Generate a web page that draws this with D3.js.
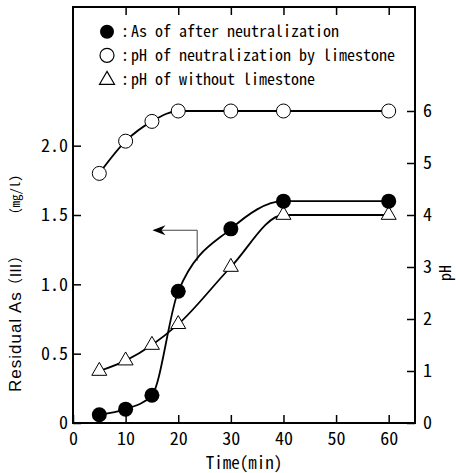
<!DOCTYPE html>
<html>
<head>
<meta charset="utf-8">
<script src="https://cdn.jsdelivr.net/npm/d3@7"></script>
<style>
  body { margin: 0; background: #fff; }
  .mono { font-family: 'Noto Sans Mono CJK JP', 'DejaVu Sans Mono', monospace; }
</style>
</head>
<body>
<svg id="chart"></svg>
<script>
// Data
const times = [5, 10, 15, 20, 30, 40, 60];
const asValues = [0.06, 0.10, 0.20, 0.95, 1.40, 1.60, 1.60];      // mg/l, left axis
const phLimestone = [4.80, 5.42, 5.80, 6.00, 6.00, 6.00, 6.00];   // pH, right axis
const phWithout = [1.00, 1.20, 1.50, 1.90, 3.00, 4.00, 4.00];     // pH, right axis

const xTicks = [0, 10, 20, 30, 40, 50, 60];
const leftTicks = [0, 0.5, 1.0, 1.5, 2.0];
const rightTicks = [0, 1, 2, 3, 4, 5, 6];
const legendLabels = ['As of after neutralization', 'pH of neutralization by limestone', 'pH of without limestone'];

const W = 456, H = 473;
const svg = d3.select('#chart').attr('width', W).attr('height', H);
const m = { left: 73, right: 415, top: 7, bottom: 423 };

const x = d3.scaleLinear().domain([0, 65]).range([m.left, m.right]);
const yL = d3.scaleLinear().domain([0, 3]).range([m.bottom, m.top]);
const yR = d3.scaleLinear().domain([0, 8]).range([m.bottom, m.top]);

const tickFont = 18;

// Axes (inward ticks)
function styleAxis(g) {
  g.select('.domain').remove();
  g.selectAll('.tick line').attr('stroke', '#000').attr('stroke-width', 1.5);
  g.selectAll('text').attr('class', 'mono').attr('font-size', tickFont).attr('fill', '#000');
}

svg.append('g').attr('transform', `translate(0,${m.bottom})`)
  .call(d3.axisBottom(x).tickValues(xTicks).tickSizeInner(-8).tickSizeOuter(0).tickPadding(9).tickFormat(d3.format('d')))
  .call(styleAxis);

svg.append('g').attr('transform', `translate(0,${m.top})`)
  .call(d3.axisTop(x).tickValues(xTicks.filter(d => d > 0)).tickSizeInner(-8).tickSizeOuter(0).tickFormat(''))
  .call(styleAxis);

svg.append('g').attr('transform', `translate(${m.left},0)`)
  .call(d3.axisLeft(yL).tickValues(leftTicks).tickSizeInner(-8).tickSizeOuter(0).tickPadding(5)
    .tickFormat(d => d === 0 ? '0' : d.toFixed(1)))
  .call(styleAxis);

svg.append('g').attr('transform', `translate(${m.right},0)`)
  .call(d3.axisRight(yR).tickValues(rightTicks).tickSizeInner(-8).tickSizeOuter(0).tickPadding(8).tickFormat(d3.format('d')))
  .call(styleAxis);

// Frame
svg.append('rect')
  .attr('x', m.left).attr('y', m.top)
  .attr('width', m.right - m.left).attr('height', m.bottom - m.top)
  .attr('fill', 'none').attr('stroke', '#000').attr('stroke-width', 2);

// Axis titles
svg.append('text').attr('class', 'mono')
  .attr('x', (m.left + m.right) / 2).attr('y', 469)
  .attr('text-anchor', 'middle').attr('font-size', 17)
  .text('Time(min)');

// left title, pieces placed along the rotated axis (x here = -screen y)
const yTitle = svg.append('g').attr('transform', 'translate(21,0) rotate(-90)').attr('fill', '#000');
yTitle.append('text').attr('x', -392).attr('y', 0)
  .attr('font-family', 'Liberation Sans, Arial, sans-serif').attr('font-size', 17)
  .attr('letter-spacing', 1).text('Residual As');
yTitle.append('text').attr('x', -293).attr('y', 0)
  .attr('font-family', "'Noto Sans CJK JP', sans-serif").attr('font-size', 15).text('（Ⅲ）');
yTitle.append('text').attr('class', 'mono').attr('x', -214).attr('y', -1)
  .attr('font-size', 13).text('(mg/l)');

svg.append('text').attr('class', 'mono')
  .attr('transform', 'translate(451,273) rotate(-90)')
  .attr('text-anchor', 'middle').attr('font-size', 16)
  .text('pH');

// Annotation arrow pointing to the left axis
const arrowPath = d3.path();
arrowPath.moveTo(x(23.6), yL(1.17));
arrowPath.lineTo(x(23.6), yL(1.39));
arrowPath.lineTo(x(15.4), yL(1.39));
svg.append('path').attr('d', arrowPath.toString())
  .attr('fill', 'none').attr('stroke', '#444').attr('stroke-width', 1);
const ax = x(15.1), ay = yL(1.39);
svg.append('path')
  .attr('d', `M${ax},${ay} L${ax + 13},${ay - 5} L${ax + 9},${ay} L${ax + 13},${ay + 5} Z`)
  .attr('fill', '#000');

// Lines
const curve = d3.curveMonotoneX;
const lineL = d3.line().x((d, i) => x(times[i])).y(d => yL(d)).curve(curve);
const lineR = d3.line().x((d, i) => x(times[i])).y(d => yR(d)).curve(curve);

svg.append('path').attr('d', lineR(phLimestone)).attr('fill', 'none').attr('stroke', '#000').attr('stroke-width', 1.8);
svg.append('path').attr('d', lineR(phWithout)).attr('fill', 'none').attr('stroke', '#000').attr('stroke-width', 1.8);
svg.append('path').attr('d', lineL(asValues)).attr('fill', 'none').attr('stroke', '#000').attr('stroke-width', 1.8);

// Markers
const triangle = d3.symbol().type(d3.symbolTriangle).size(97);

svg.append('g').selectAll('circle').data(phLimestone).join('circle')
  .attr('cx', (d, i) => x(times[i])).attr('cy', d => yR(d)).attr('r', 7)
  .attr('fill', '#fff').attr('stroke', '#000').attr('stroke-width', 1);

svg.append('g').selectAll('path').data(phWithout).join('path')
  .attr('d', triangle)
  .attr('transform', (d, i) => `translate(${x(times[i])},${yR(d)})`)
  .attr('fill', '#fff').attr('stroke', '#000').attr('stroke-width', 1);

svg.append('g').selectAll('circle').data(asValues).join('circle')
  .attr('cx', (d, i) => x(times[i])).attr('cy', d => yL(d)).attr('r', 7.5)
  .attr('fill', '#000');

// Legend
const legendX = 107, legendY = [31.7, 55.3, 79];
const lg = svg.append('g');
lg.append('circle').attr('cx', legendX).attr('cy', legendY[0]).attr('r', 7).attr('fill', '#000');
lg.append('circle').attr('cx', legendX).attr('cy', legendY[1]).attr('r', 7)
  .attr('fill', '#fff').attr('stroke', '#000').attr('stroke-width', 1.2);
lg.append('path').attr('d', triangle).attr('transform', `translate(${legendX},${legendY[2] + 1})`)
  .attr('fill', '#fff').attr('stroke', '#000').attr('stroke-width', 1.2);

legendLabels.forEach((label, i) => {
  lg.append('text').attr('class', 'mono').attr('font-size', 16)
    .attr('x', 125).attr('y', legendY[i]).attr('dy', '0.36em').attr('text-anchor', 'middle').text(':');
  lg.append('text').attr('class', 'mono').attr('font-size', 16)
    .attr('x', 131).attr('y', legendY[i]).attr('dy', '0.36em').text(label);
});
</script>
</body>
</html>
